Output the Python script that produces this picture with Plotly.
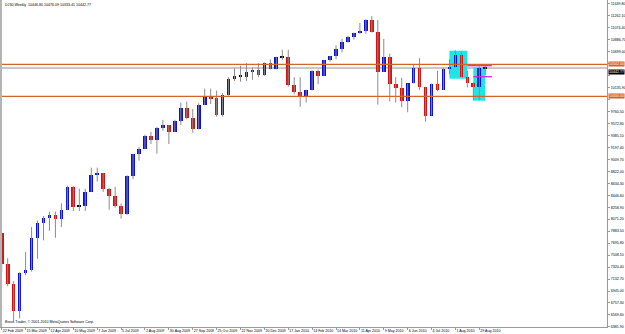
import plotly.graph_objects as go

# ---- data (weekly #DJ30 candles) ----
weeks = ["15 Feb 2009","22 Feb 2009","1 Mar 2009","8 Mar 2009","15 Mar 2009","22 Mar 2009","29 Mar 2009",
         "5 Apr 2009","12 Apr 2009","19 Apr 2009","26 Apr 2009","3 May 2009","10 May 2009","17 May 2009",
         "24 May 2009","31 May 2009","7 Jun 2009","14 Jun 2009","21 Jun 2009","28 Jun 2009","5 Jul 2009",
         "12 Jul 2009","19 Jul 2009","26 Jul 2009","2 Aug 2009","9 Aug 2009","16 Aug 2009","23 Aug 2009",
         "30 Aug 2009","6 Sep 2009","13 Sep 2009","20 Sep 2009","27 Sep 2009","4 Oct 2009","11 Oct 2009",
         "18 Oct 2009","25 Oct 2009","1 Nov 2009","8 Nov 2009","15 Nov 2009","22 Nov 2009","29 Nov 2009",
         "6 Dec 2009","13 Dec 2009","20 Dec 2009","27 Dec 2009","3 Jan 2010","10 Jan 2010","17 Jan 2010",
         "24 Jan 2010","31 Jan 2010","7 Feb 2010","14 Feb 2010","21 Feb 2010","28 Feb 2010","7 Mar 2010",
         "14 Mar 2010","21 Mar 2010","28 Mar 2010","4 Apr 2010","11 Apr 2010","18 Apr 2010","25 Apr 2010",
         "2 May 2010","9 May 2010","16 May 2010","23 May 2010","30 May 2010","6 Jun 2010","13 Jun 2010",
         "20 Jun 2010","27 Jun 2010","4 Jul 2010","11 Jul 2010","18 Jul 2010","25 Jul 2010","1 Aug 2010",
         "8 Aug 2010","15 Aug 2010","22 Aug 2010","29 Aug 2010","5 Sep 2010"]

opens = [7850, 7366, 7062, 6627, 7224, 7279, 7776, 8018, 8083, 8131, 8076, 8212, 8575, 8268,
         8277, 8500, 8764, 8799, 8539, 8438, 8280, 8146, 8743, 9093, 9172, 9370, 9321, 9506,
         9544, 9441, 9605, 9820, 9666, 9488, 9865, 9996, 9972, 9713, 10023, 10271, 10319, 10310,
         10388, 10405, 10329, 10520, 10428, 10618, 10610, 10173, 10067, 10012, 10099, 10402, 10325, 10567,
         10625, 10742, 10850, 10927, 10997, 11019, 11204, 11009, 10380, 10620, 10193, 10137, 9931, 10212,
         10450, 10144, 9686, 10198, 10098, 10425, 10466, 10654, 10303, 10214, 10150, 10447]
highs = [7870, 7460, 7100, 7240, 7560, 7950, 8050, 8120, 8190, 8190, 8320, 8600, 8590, 8550,
         8550, 8880, 8880, 8800, 8560, 8580, 8320, 8760, 9100, 9200, 9400, 9440, 9520, 9630,
         9550, 9630, 9900, 9918, 9800, 9890, 10120, 10120, 10090, 10050, 10300, 10440, 10480, 10520,
         10450, 10520, 10530, 10580, 10620, 10730, 10730, 10300, 10300, 10100, 10410, 10420, 10570, 10630,
         10800, 10900, 10950, 11000, 11150, 11210, 11258, 11200, 10900, 10670, 10300, 10290, 10200, 10500,
         10600, 10150, 10200, 10400, 10450, 10580, 10720, 10700, 10400, 10220, 10470, 10476]
lows = [7250, 7020, 6470, 6517, 7190, 7250, 7450, 7740, 7890, 7780, 7950, 8210, 8200, 8200,
        8200, 8500, 8660, 8500, 8220, 8250, 8080, 8140, 8700, 8990, 9170, 9250, 9100, 9460,
        9250, 9440, 9550, 9640, 9430, 9480, 9860, 9880, 9680, 9680, 10010, 10240, 10230, 10240,
        10260, 10300, 10320, 10420, 10420, 10570, 10150, 10030, 9835, 9900, 10090, 10190, 10320, 10540,
        10580, 10690, 10840, 10890, 10980, 10980, 11000, 9870, 10380, 9920, 9900, 9830, 9750, 10200,
        10100, 9600, 9700, 10080, 10100, 10350, 10450, 10300, 10140, 9936, 9940, 10333]
closes = [7366, 7062, 6627, 7224, 7279, 7776, 8018, 8083, 8131, 8076, 8212, 8575, 8268, 8277,
          8500, 8764, 8799, 8539, 8438, 8280, 8146, 8743, 9093, 9172, 9370, 9321, 9506, 9544,
          9441, 9605, 9820, 9666, 9488, 9865, 9996, 9972, 9713, 10023, 10271, 10319, 10310, 10388,
          10405, 10329, 10520, 10428, 10618, 10610, 10173, 10067, 10012, 10099, 10402, 10325, 10567, 10625,
          10742, 10850, 10927, 10997, 11019, 11204, 11009, 10380, 10620, 10193, 10137, 9931, 10212, 10450,
          10144, 9686, 10198, 10098, 10425, 10466, 10654, 10303, 10214, 10150, 10447, 10443]

date_tick_bars = [0, 4, 8, 12, 16, 20, 24, 28, 32, 36, 40, 44, 48, 52, 56, 60, 64, 68, 72, 76, 80]
date_tick_labels = ["22 Feb 2009", "15 Mar 2009", "12 Apr 2009", "10 May 2009", "7 Jun 2009", "5 Jul 2009",
                    "2 Aug 2009", "30 Aug 2009", "27 Sep 2009", "25 Oct 2009", "22 Nov 2009", "20 Dec 2009",
                    "17 Jan 2010", "14 Feb 2010", "14 Mar 2010", "11 Apr 2010", "9 May 2010", "6 Jun 2010",
                    "4 Jul 2010", "1 Aug 2010", "29 Aug 2010"]

price_ticks = [6381.9, 6569.6, 6757.3, 6945.0, 7132.7, 7320.4, 7508.1, 7695.8, 7883.5, 8071.2,
               8258.9, 8446.6, 8634.3, 8822.0, 9009.7, 9197.4, 9385.1, 9572.8, 9760.5, 9948.2,
               10135.9, 10323.6, 10511.3, 10699.0, 10886.7, 11074.4, 11262.1, 11449.8]

levels = [10502.0, 10000.0]            # orange horizontal lines
bid_price = 10442.77                   # current price line
zone_start = [75, 79]                  # cyan rectangles (bar index)
zone_end = [78, 81]
zone_top = [10715, 10455]
zone_bottom = [10276, 9931]
mag_start = [78, 79]                   # short magenta lines
mag_end = [82.1, 82.1]
mag_price = [10480, 10307]

title_text = "DJ30,Weekly  10446.80 10476.09 10333.41 10442.77"
credit_text = "Brous Trader, \u00a9 2001-2010 MetaQuotes Software Corp."

BLUE = "#0a10d8"
RED = "#d81010"
ORANGE = "#d2642a"
FONT = "Liberation Sans"
FS = 3.6

W, H = 625, 334
ML, MR, MT, MB = 0, 18, 0, 7
PW, PH = W - ML - MR, H - MT - MB
BAR_PX, BAR0_PX = 5.97, 1.7
Y_TOP, Y_BOT = 11510.8, 6380.1
ppx = (Y_TOP - Y_BOT) / PH

# hide tick labels that sit under the axis price boxes
box_prices = levels + [bid_price - 3.5 * ppx]
price_tick_labels = []
for v in price_ticks:
    if any(abs(v - b) < 6 * ppx for b in box_prices):
        price_tick_labels.append("")
    else:
        price_tick_labels.append("%.2f" % v)

idx = list(range(len(opens)))
bases, heights, colors = [], [], []
for o, c in zip(opens, closes):
    lo, hi = min(o, c), max(o, c)
    if hi - lo < 12:
        mid = (hi + lo) / 2
        bases.append(mid - 7)
        heights.append(14)
        colors.append("#000000")
    else:
        bases.append(lo)
        heights.append(hi - lo)
        colors.append(BLUE if c > o else RED)

wx, wy = [], []
for i, h, l in zip(idx, highs, lows):
    wx += [i, i, None]
    wy += [l, h, None]

fig = go.Figure()
fig.add_trace(go.Scatter(x=wx, y=wy, mode="lines", line=dict(color="#8c8c8c", width=1),
                         hoverinfo="skip", showlegend=False))
fig.add_trace(go.Bar(x=idx, y=heights, base=bases, width=0.62,
                     marker=dict(color=colors, line=dict(width=0)), showlegend=False))

shapes = []
for x0, x1, y1, y0 in zip(zone_start, zone_end, zone_top, zone_bottom):
    shapes.append(dict(type="rect", xref="x", yref="y", x0=x0, x1=x1, y0=y0, y1=y1,
                       fillcolor="#1ee6e6", line=dict(width=0), layer="below"))
shapes.append(dict(type="line", xref="paper", yref="y", x0=0, x1=1, y0=bid_price, y1=bid_price,
                   line=dict(color="#c8c8c8", width=2), layer="below"))
for lv in levels:
    shapes.append(dict(type="line", xref="paper", yref="y", x0=0, x1=1, y0=lv, y1=lv,
                       line=dict(color=ORANGE, width=1.3), layer="above"))
for x0, x1, p in zip(mag_start, mag_end, mag_price):
    shapes.append(dict(type="line", xref="x", yref="y", x0=x0, x1=x1, y0=p, y1=p,
                       line=dict(color="#e020e0", width=1.3), layer="above"))
# left window border
shapes.append(dict(type="rect", xref="paper", yref="paper", x0=0, x1=2 / PW, y0=0, y1=1,
                   fillcolor="#b4b4b4", line=dict(width=0), layer="above"))

annotations = [
    dict(text=title_text, xref="paper", yref="paper", x=3 / PW, y=1 - 1 / PH, xanchor="left",
         yanchor="top", showarrow=False, font=dict(size=FS, color="#000000")),
    dict(text=credit_text, xref="paper", yref="paper", x=3 / PW, y=1 / PH, xanchor="left",
         yanchor="bottom", showarrow=False, font=dict(size=FS, color="#000000")),
]
for lv in levels:
    annotations.append(dict(text="%.2f" % lv, xref="paper", yref="y", x=1 + 1 / PW, y=lv, xanchor="left",
                            yanchor="middle", showarrow=False, bgcolor=ORANGE, borderpad=0,
                            font=dict(size=FS, color="#ffffff")))
annotations.append(dict(text="%.2f" % bid_price, xref="paper", yref="y", x=1 + 1 / PW, y=bid_price,
                        xanchor="left", yanchor="top", yshift=-1, showarrow=False, bgcolor="#000000",
                        borderpad=0, font=dict(size=FS, color="#ffffff")))

fig.update_layout(
    width=W, height=H,
    margin=dict(l=ML, r=MR, t=MT, b=MB),
    paper_bgcolor="#ffffff", plot_bgcolor="#ffffff",
    font=dict(family=FONT, size=FS, color="#000000"),
    bargap=0, showlegend=False,
    shapes=shapes, annotations=annotations,
    xaxis=dict(range=[-BAR0_PX / BAR_PX, (PW - BAR0_PX) / BAR_PX], showgrid=False, zeroline=False,
               showline=True, linecolor="#9a9a9a", linewidth=1, ticks="outside", ticklen=2,
               tickcolor="#9a9a9a", tickvals=date_tick_bars, ticktext=date_tick_labels,
               ticklabelposition="outside right", tickangle=0, tickfont=dict(size=FS),
               automargin=False, fixedrange=True),
    yaxis=dict(range=[Y_BOT, Y_TOP], side="right", showgrid=False, zeroline=False, showline=True,
               linecolor="#9a9a9a", linewidth=1, ticks="outside", ticklen=2, tickcolor="#9a9a9a",
               tickvals=price_ticks, ticktext=price_tick_labels, tickfont=dict(size=FS),
               automargin=False, fixedrange=True),
)

fig.write_html("out.html")
